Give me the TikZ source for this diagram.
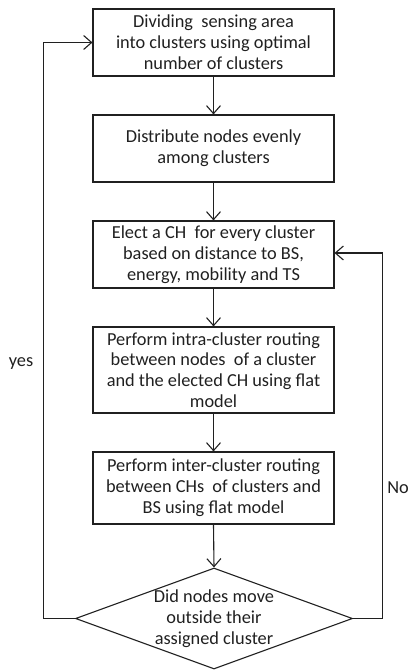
\documentclass[tikz,border=0pt]{standalone}
\usepackage{fontspec}
\setmainfont{Carlito}
\usetikzlibrary{arrows.meta,shapes.geometric}
\definecolor{ink}{HTML}{202020}
\begin{document}
\begin{tikzpicture}[x=1bp,y=-1bp,
  every node/.style={font=\fontsize{18.4}{20.9}\selectfont, text=ink},
  box/.style={draw=ink, line width=1.1bp, rectangle, minimum width=241bp, align=center, inner sep=0pt},
  arr/.style={draw=ink, line width=1.1bp, -{Straight Barb[length=8bp,width=14bp,line width=1.1bp]}},
  lbl/.style={inner sep=0pt}]
\useasboundingbox (0,0) rectangle (408,671);
\node[box, minimum height=67bp] (b1) at (213.5,42.5) {Dividing\ \ sensing area\\into clusters using optimal\\number of clusters};
\node[box, minimum height=67bp] (b2) at (213.5,148.5) {Distribute nodes evenly\\among clusters};
\node[box, minimum height=67bp] (b3) at (213.5,254.5) {Elect a CH\ \ for every cluster\\based on distance to BS,\\energy, mobility and TS};
\node[box, minimum height=86bp] (b4) at (213.5,370) {Perform intra-cluster routing\\between nodes\ \ of a cluster\\and the elected CH using flat\\model};
\node[box, minimum height=72bp] (b5) at (213.5,488) {Perform inter-cluster routing\\between CHs\ \ of clusters and\\BS using flat model};
\node[diamond, draw=ink, line width=1.1bp, minimum width=277bp, minimum height=101bp, inner sep=0pt] (d) at (214,618.5) {};
\node[align=center, inner sep=0pt] (dt) at (214,618.5) {Did nodes move\\outside their\\assigned cluster};
\draw[arr] (b1.south) -- (b2.north);
\draw[arr] (b2.south) -- (b3.north);
\draw[arr] (b3.south) -- (b4.north);
\draw[arr] (b4.south) -- (b5.north);
\draw[arr] (b5.south) -- (d.north);
\draw[arr] (d.west) -- ++(-31,0) |- (b1.west);
\draw[arr] (d.east) -- ++(29,0) |- ([yshift=1.5bp]b3.east);
\node[lbl] (yes) at (21,364) {yes};
\node[lbl] (no) at (398,488) {No};
\end{tikzpicture}
\end{document}
